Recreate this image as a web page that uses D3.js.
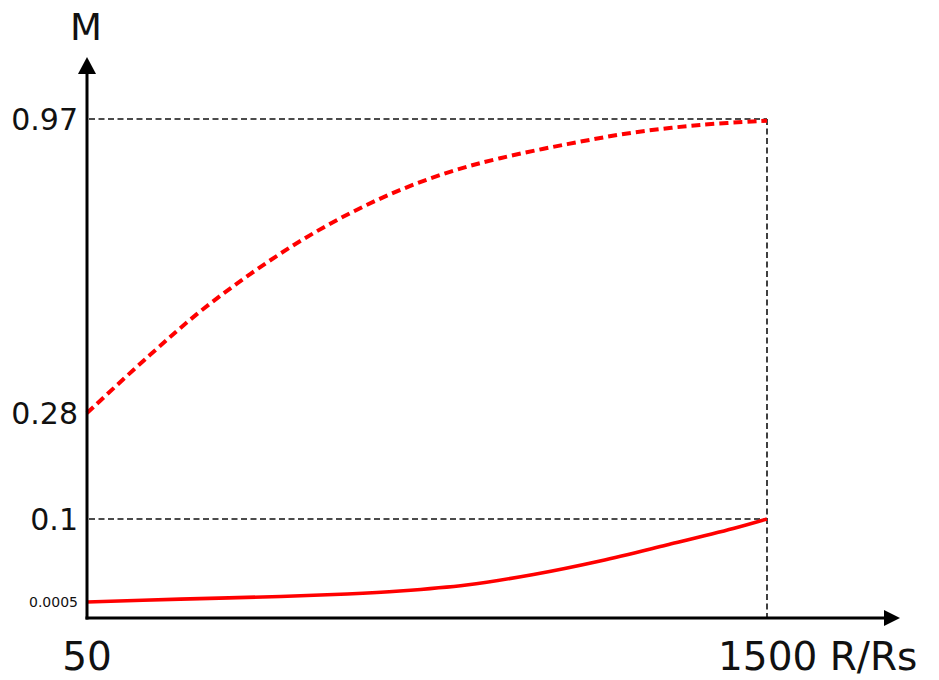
<!DOCTYPE html>
<html>
<head>
<meta charset="utf-8">
<script src="https://cdn.jsdelivr.net/npm/d3@7"></script>
<style>
  body { margin: 0; background: #fff; }
  text { font-family: "DejaVu Sans", sans-serif; fill: #111; }
</style>
</head>
<body>
<script>
// radius (R/Rs) and the two M curves
const radius = [50, 249, 463, 605, 717, 859, 1002, 1144, 1286, 1428, 1500]
const mLow = [0.0005, 0.0039, 0.0071, 0.0101, 0.0137, 0.0209, 0.0335, 0.0497, 0.0688, 0.0886, 0.1]

const radiusHigh = [50, 184, 291, 398, 504, 611, 717, 824, 931, 1074, 1214, 1357, 1500]
const mHigh = [0.28, 0.416, 0.518, 0.606, 0.683, 0.749, 0.803, 0.846, 0.878, 0.911, 0.938, 0.956, 0.966]

const yTicks = [0.0005, 0.1, 0.28, 0.97]
const yTickLabels = ["0.0005", "0.1", "0.28", "0.97"]
const xTicks = [50, 1500]
const xTickLabels = ["50", "1500 R/Rs"]

// layout
const W = 939, H = 680
const margin = { top: 119, right: 172, bottom: 62, left: 87 }
const x0 = margin.left, x1 = W - margin.right
const yBase = H - margin.bottom

let svg = d3.select("body")
            .append("svg")
                .attr("width", W)
                .attr("height", H)

// schematic y axis: each labelled band has its own spacing
let x = d3.scaleLinear().domain([50, 1500]).range([x0, x1])
let y = d3.scaleLinear()
          .domain([0, 0.0005, 0.1, 0.28, 0.97])
          .range([yBase, 602, 519, 413, margin.top])

// guide lines
const guide = svg.append("g")
    .attr("stroke", "#111")
    .attr("stroke-width", 1.6)
    .attr("stroke-dasharray", "6,3.5")
    .attr("fill", "none")

guide.selectAll(".hguide")
    .data([0.97, 0.1])
    .enter()
    .append("line")
        .attr("x1", x(50) + 2)
        .attr("x2", x(1500))
        .attr("y1", d => y(d))
        .attr("y2", d => y(d))

guide.append("line")
    .attr("x1", x(1500))
    .attr("x2", x(1500))
    .attr("y1", y(0.97))
    .attr("y2", yBase)

// curves
let line = d3.line()
    .x(d => x(d[0]))
    .y(d => y(d[1]))
    .curve(d3.curveCatmullRom.alpha(0.5))

svg.append("path")
    .attr("fill", "none")
    .attr("stroke", "#ff0000")
    .attr("stroke-width", 3.6)
    .attr("d", line(radius.map((r, i) => [r, mLow[i]])))

svg.append("path")
    .attr("fill", "none")
    .attr("stroke", "#ff0000")
    .attr("stroke-width", 4)
    .attr("stroke-dasharray", "9,5")
    .attr("d", line(radiusHigh.map((r, i) => [r, mHigh[i]])))

// axes with arrow heads
const axes = svg.append("g")
axes.append("line")
    .attr("x1", x0).attr("x2", x0)
    .attr("y1", yBase + 1.5).attr("y2", 72)
    .attr("stroke", "#000").attr("stroke-width", 3)
axes.append("line")
    .attr("x1", x0 - 1.5).attr("x2", 886)
    .attr("y1", yBase).attr("y2", yBase)
    .attr("stroke", "#000").attr("stroke-width", 3)
axes.append("path")
    .attr("d", `M${x0},57 L${x0 + 9},74 L${x0 - 9},74 Z`)
    .attr("fill", "#000")
axes.append("path")
    .attr("d", `M900,${yBase} L884,${yBase - 8} L884,${yBase + 8} Z`)
    .attr("fill", "#000")

// labels
svg.append("text")
    .attr("x", x0 - 1)
    .attr("y", 40)
    .attr("text-anchor", "middle")
    .style("font-size", "37px")
    .text("M")

svg.selectAll(".ylab")
    .data(yTicks)
    .enter()
    .append("text")
        .attr("class", "ylab")
        .attr("x", 78)
        .attr("y", d => y(d) + (d < 0.01 ? 5 : 11))
        .attr("text-anchor", "end")
        .style("font-size", d => d < 0.01 ? "14px" : "30px")
        .text((d, i) => yTickLabels[i])

svg.selectAll(".xlab")
    .data(xTicks)
    .enter()
    .append("text")
        .attr("class", "xlab")
        .attr("x", (d, i) => i == 0 ? x(d) : x(d) - 49)
        .attr("y", 670)
        .attr("text-anchor", (d, i) => i == 0 ? "middle" : "start")
        .style("font-size", "39px")
        .text((d, i) => xTickLabels[i])
</script>
</body>
</html>
